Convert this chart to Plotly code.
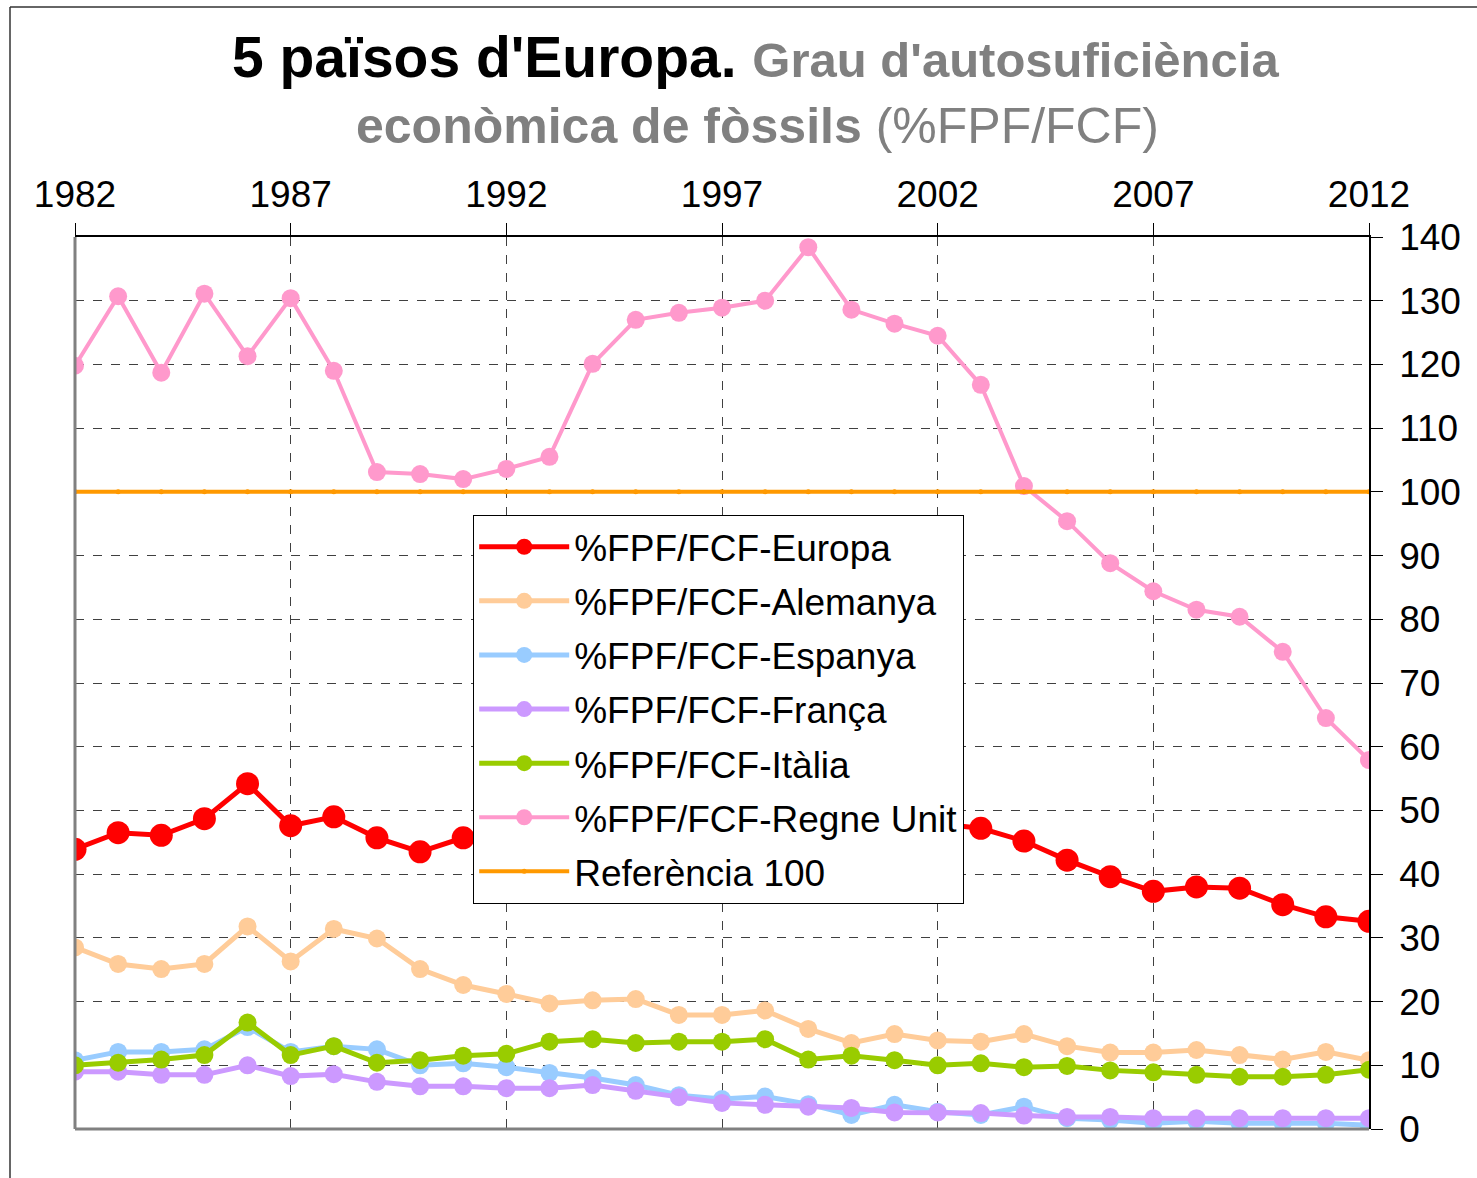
import plotly.graph_objects as go

years = list(range(1982, 2013))

europa = [43.9, 46.5, 46.1, 48.7, 54.2, 47.6, 49.0, 45.7, 43.5, 45.7,
          46.2, 47.0, 47.6, 47.2, 48.1, 47.8, 48.6, 48.3, 47.4, 47.6,
          47.9, 47.2, 45.2, 42.2, 39.6, 37.3, 38.0, 37.8, 35.2, 33.3, 32.6]
alemanya = [28.5, 25.9, 25.1, 25.9, 31.8, 26.3, 31.4, 29.9, 25.1, 22.6,
            21.2, 19.7, 20.2, 20.4, 17.9, 17.9, 18.6, 15.7, 13.5, 14.9,
            13.9, 13.7, 14.9, 13.0, 12.0, 12.0, 12.4, 11.6, 10.9, 12.1, 10.8]
espanya = [10.8, 12.1, 12.1, 12.5, 16.0, 12.1, 13.0, 12.5, 10.0, 10.3,
           9.7, 8.8, 8.0, 6.9, 5.3, 4.7, 5.1, 3.9, 2.2, 3.8,
           2.7, 2.2, 3.5, 1.7, 1.4, 0.9, 1.2, 0.9, 0.9, 0.9, 0.6]
franca = [9.0, 9.0, 8.5, 8.5, 10.0, 8.3, 8.6, 7.4, 6.7, 6.7,
          6.4, 6.4, 6.9, 6.0, 5.0, 4.1, 3.8, 3.5, 3.3, 2.6,
          2.6, 2.5, 2.1, 1.9, 1.9, 1.7, 1.7, 1.7, 1.7, 1.7, 1.7]
italia = [10.0, 10.4, 10.9, 11.6, 16.7, 11.6, 13.0, 10.4, 10.8, 11.5,
          11.8, 13.7, 14.1, 13.5, 13.7, 13.7, 14.1, 10.9, 11.5, 10.8,
          10.0, 10.3, 9.7, 9.9, 9.2, 8.9, 8.5, 8.2, 8.2, 8.5, 9.3]
regne_unit = [119.8, 130.7, 118.7, 131.1, 121.3, 130.4, 119.0, 103.1, 102.8, 102.0,
              103.6, 105.5, 120.1, 127.0, 128.1, 128.9, 130.0, 138.4, 128.6, 126.4,
              124.5, 116.8, 100.9, 95.4, 88.8, 84.4, 81.5, 80.4, 74.9, 64.5, 57.9]
referencia = [100] * len(years)

year_ticks = list(range(1982, 2013, 5))
value_ticks = list(range(0, 141, 10))

FONT = "Arial, Liberation Sans, sans-serif"

series = [
    ("%FPF/FCF-Europa", europa, "#FF0000", 5, 23),
    ("%FPF/FCF-Alemanya", alemanya, "#FFCC99", 5, 18),
    ("%FPF/FCF-Espanya", espanya, "#99CCFF", 5, 18),
    ("%FPF/FCF-França", franca, "#CC99FF", 5, 18),
    ("%FPF/FCF-Itàlia", italia, "#99CC00", 5, 18),
    ("%FPF/FCF-Regne Unit", regne_unit, "#FF99CC", 4, 18),
]

fig = go.Figure()
for name, vals, color, lw, ms in series:
    fig.add_trace(go.Scatter(
        x=years, y=vals, name=name, mode="lines+markers",
        line=dict(color=color, width=lw),
        marker=dict(color=color, size=ms, symbol="circle"),
        legendgroup=name,
    ))
fig.add_trace(go.Scatter(
    x=years, y=referencia, name="Referència 100", mode="lines+markers",
    line=dict(color="#FF9900", width=4),
    marker=dict(color="#FF9900", size=5, symbol="circle"),
    legendgroup="ref",
))

L, R, T, B = 75, 108, 237, 49
W, H = 1477, 1178
pw, ph = W - L - R, H - T - B


def px_x(p):
    return (p - L) / pw


def px_y(p):
    return (H - B - p) / ph


fig.update_layout(
    width=W, height=H,
    margin=dict(l=L, r=R, t=T, b=B, pad=0),
    paper_bgcolor="white", plot_bgcolor="white",
    font=dict(family=FONT, color="black", size=37),
    showlegend=True,
    legend=dict(
        x=px_x(473), y=px_y(515), xanchor="left", yanchor="top",
        bgcolor="white", bordercolor="black", borderwidth=1.2,
        font=dict(family=FONT, size=37, color="black"),
        tracegroupgap=3,
        itemwidth=90,
    ),
    xaxis=dict(
        side="top", range=[1982, 2012], tickvals=year_ticks,
        ticktext=[str(y) for y in year_ticks],
        showline=True, linecolor="black", linewidth=1.5,
        ticks="outside", ticklen=12, tickcolor="black", tickwidth=1,
        ticklabelstandoff=1,
        showgrid=True, gridcolor="#404040", gridwidth=1.2, griddash="dash",
        zeroline=False, tickfont=dict(size=37, family=FONT),
    ),
    yaxis=dict(
        side="right", range=[0, 140], tickvals=value_ticks,
        showline=True, linecolor="black", linewidth=1.5,
        ticks="outside", ticklen=12, tickcolor="black", tickwidth=1,
        ticklabelstandoff=9,
        showgrid=True, gridcolor="#404040", gridwidth=1.2, griddash="dash",
        zeroline=False, tickfont=dict(size=37, family=FONT),
    ),
    shapes=[
        # grey left and bottom axis lines
        dict(type="line", xref="paper", yref="paper", x0=0, x1=0, y0=0, y1=1,
             line=dict(color="#808080", width=3)),
        dict(type="line", xref="paper", yref="paper", x0=0, x1=1, y0=0, y1=0,
             line=dict(color="#808080", width=3)),
        # outer chart frame
        dict(type="line", xref="paper", yref="paper",
             x0=px_x(10), x1=px_x(W + 10), y0=px_y(7), y1=px_y(7),
             line=dict(color="#333333", width=1.5)),
        dict(type="line", xref="paper", yref="paper",
             x0=px_x(10), x1=px_x(10), y0=px_y(7), y1=px_y(H + 10),
             line=dict(color="#333333", width=1.5)),
    ],
    annotations=[
        dict(xref="paper", yref="paper", x=px_x(755), y=px_y(57),
             xanchor="center", yanchor="middle", showarrow=False,
             text=("<b>5 països d'Europa.</b> "
                   "<span style='font-size:49px;color:#808080'><b>Grau d'autosuficiència</b></span>"),
             font=dict(family=FONT, size=57, color="black")),
        dict(xref="paper", yref="paper", x=px_x(757), y=px_y(126),
             xanchor="center", yanchor="middle", showarrow=False,
             text="<b>econòmica de fòssils</b> (%FPF/FCF)",
             font=dict(family=FONT, size=50, color="#808080")),
    ],
)

fig.write_html("out.html")
